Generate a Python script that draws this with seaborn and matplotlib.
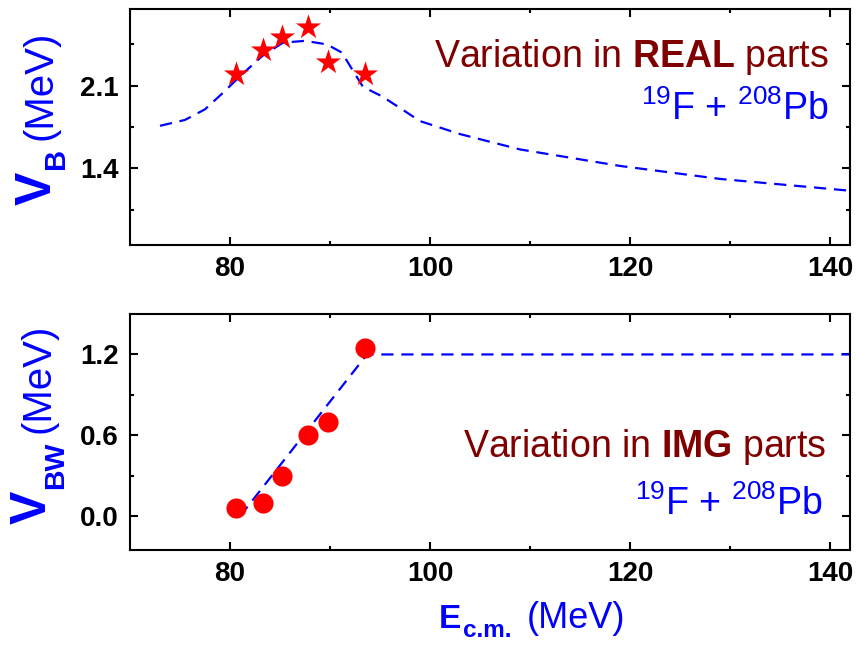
import matplotlib
matplotlib.use("Agg")
import matplotlib.pyplot as plt
import seaborn as sns

# ---- data ----
e_points = [80.6, 83.3, 85.2, 87.8, 89.8, 93.5]
vb_points = [2.20, 2.40, 2.51, 2.60, 2.30, 2.20]
vbw_points = [0.06, 0.10, 0.30, 0.60, 0.70, 1.25]

e_curve_real = [73.0, 75.5, 77.5, 79.3, 81.0, 83.2, 85.3, 87.5, 89.7, 91.2, 92.2,
                93.3, 95.2, 97.2, 99.0, 101.0, 103.0, 109.0, 119.0, 129.0, 142.0]
vb_curve = [1.76, 1.81, 1.90, 2.04, 2.18, 2.35, 2.465, 2.48, 2.45, 2.38, 2.24,
            2.09, 2.01, 1.90, 1.80, 1.745, 1.69, 1.56, 1.42, 1.31, 1.21]

e_curve_img = [81.0, 93.7, 142.0]
vbw_curve = [0.0, 1.2, 1.2]

x_major = [80, 100, 120, 140]
x_minor = [90, 110, 130]
x_labels = ["80", "100", "120", "140"]
real_major = [1.4, 2.1]
real_minor = [1.05, 1.75, 2.45]
real_labels = ["1.4", "2.1"]
img_major = [0.0, 0.6, 1.2]
img_minor = [0.3, 0.9]
img_labels = ["0.0", "0.6", "1.2"]

# ---- style ----
sns.set_style("ticks")
plt.rcParams['font.family'] = ['Liberation Sans', 'DejaVu Sans']
plt.rcParams['mathtext.fontset'] = 'custom'
plt.rcParams['mathtext.rm'] = 'Liberation Sans'
plt.rcParams['mathtext.bf'] = 'Liberation Sans:bold'
plt.rcParams['mathtext.it'] = 'Liberation Sans:italic'

W, H = 856, 650
fig = plt.figure(figsize=(W / 100, H / 100), dpi=100)


def fx(x):
    return x / W


def fy(y):
    return 1 - y / H


ax1 = fig.add_axes([fx(130), fy(245), 720 / W, 236 / H])
ax2 = fig.add_axes([fx(130), fy(550), 720 / W, 236 / H])

dash = (0, (5.5, 3.5))
BLUE = "#0000FF"
DRED = "#800000"

sns.lineplot(x=e_curve_real, y=vb_curve, ax=ax1, color=BLUE, lw=1.6,
             linestyle=dash, sort=False, estimator=None)
sns.scatterplot(x=e_points, y=vb_points, ax=ax1, marker='*', s=360,
                color='red', linewidth=0, zorder=3)

sns.lineplot(x=e_curve_img, y=vbw_curve, ax=ax2, color=BLUE, lw=1.6,
             linestyle=dash, sort=False, estimator=None)
sns.scatterplot(x=e_points, y=vbw_points, ax=ax2, marker='o', s=210,
                color='red', linewidth=0, zorder=3)

ax1.set_ylim(0.75, 2.75)
ax2.set_ylim(-0.25, 1.5)

for ax, ymaj, ymin, ylab in [(ax1, real_major, real_minor, real_labels),
                             (ax2, img_major, img_minor, img_labels)]:
    ax.set_xlim(70, 142)
    ax.set_xticks(x_major)
    ax.set_xticks(x_minor, minor=True)
    ax.set_xticklabels(x_labels, fontweight='bold')
    ax.set_yticks(ymaj)
    ax.set_yticks(ymin, minor=True)
    ax.set_yticklabels(ylab, fontweight='bold')
    ax.set_xlabel('')
    ax.set_ylabel('')
    ax.tick_params(which='both', direction='in', top=True, right=True,
                   width=1.5, color='black', labelcolor='black')
    ax.tick_params(which='major', length=6, labelsize=20, pad=8)
    ax.tick_params(which='minor', length=3)
    for sp in ax.spines.values():
        sp.set_linewidth(1.5)
        sp.set_color('black')
        sp.set_visible(True)

# ---- annotations ----
fig.text(fx(829), fy(67), r"Variation in $\mathbf{REAL}$ parts", color=DRED,
         fontsize=27, ha='right', va='baseline')
fig.text(fx(829), fy(120), r"$^{19}$F + $^{208}$Pb", color=BLUE,
         fontsize=27, ha='right', va='baseline')
fig.text(fx(826), fy(457), r"Variation in $\mathbf{IMG}$ parts", color=DRED,
         fontsize=27, ha='right', va='baseline')
fig.text(fx(823), fy(515), r"$^{19}$F + $^{208}$Pb", color=BLUE,
         fontsize=27, ha='right', va='baseline')

# ---- axis labels (built from pieces) ----
rot = dict(rotation=90, rotation_mode='anchor', ha='left', va='baseline', color=BLUE)
fig.text(fx(51), fy(205), "V", fontsize=36, fontweight='bold', **rot)
fig.text(fx(64), fy(169), "B", fontsize=21, fontweight='bold', **rot)
fig.text(fx(51), fy(140), "(MeV)", fontsize=29, **rot)

fig.text(fx(46), fy(524), "V", fontsize=36, fontweight='bold', **rot)
fig.text(fx(63), fy(489), "BW", fontsize=20.5, fontweight='bold', **rot)
fig.text(fx(49), fy(433), "(MeV)", fontsize=29, **rot)

fig.text(fx(439), fy(628), "E", color=BLUE, fontsize=24, fontweight='bold',
         ha='left', va='baseline')
fig.text(fx(463), fy(637), "c.m.", color=BLUE, fontsize=17.5, fontweight='bold',
         ha='left', va='baseline')
fig.text(fx(527), fy(628), "(MeV)", color=BLUE, fontsize=26,
         ha='left', va='baseline')

fig.savefig("out.png", dpi=100)
